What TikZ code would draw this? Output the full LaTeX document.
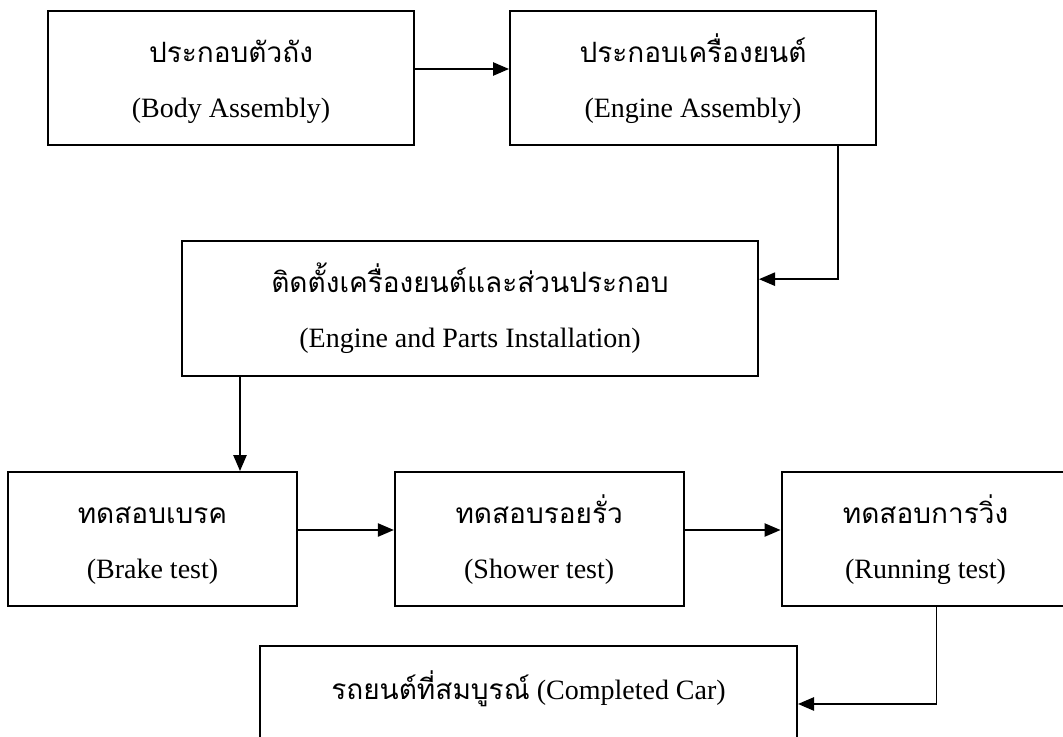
\documentclass[tikz,border=0pt]{standalone}
\usepackage{fontspec}
\setmainfont{Liberation Serif}
\newfontfamily\thaifont[Script=Thai]{Loma}
\usetikzlibrary{arrows.meta,positioning}

\begin{document}
\begin{tikzpicture}[
	x = 0.75pt, y = -0.75pt, % one unit = one pixel of the layout
	> = {Triangle[length=12pt, width=10pt]}, % arrow head style
	P/.style={rectangle, draw=black, line width=1.5pt, inner sep=0pt, align=center,
		text height=79.5pt, text depth=21pt,
		font=\fontsize{21}{41}\selectfont}, % process box
	L/.style={->, line width=1.1pt}, % connector
	]
	\useasboundingbox (0,0) rectangle (1063,736);
	\clip (0,0) rectangle (1063,736);

	% Top row
	\node[P, minimum width=274.5pt] (body) at (231,78)
		{{\thaifont ประกอบตัวถัง}\\(Body Assembly)};
	\node[P, minimum width=274.5pt] (engine) [right = 70.5pt of body]
		{{\thaifont ประกอบเครื่องยนต์}\\(Engine Assembly)};

	% Installation
	\node[P, minimum width=432pt, text depth=21.75pt] (install) at (470,308.5)
		{{\thaifont ติดตั้งเครื่องยนต์และส่วนประกอบ}\\(Engine and Parts Installation)};

	% Test row
	\node[P, minimum width=216.5pt] (brake) at (152.5,539)
		{{\thaifont ทดสอบเบรค}\\(Brake test)};
	\node[P, minimum width=216.5pt] (shower) [right = 72pt of brake]
		{{\thaifont ทดสอบรอยรั่ว}\\(Shower test)};
	\node[P, minimum width=216pt] (running) [right = 72pt of shower]
		{{\thaifont ทดสอบการวิ่ง}\\(Running test)};

	% Result, running off the bottom edge
	\node[P, anchor=north, minimum width=402.75pt, text height=39.75pt, text depth=75pt] (done) at (528.5,645)
		{{\thaifont รถยนต์ที่สมบูรณ์} (Completed Car)};

	% Paths connecting nodes
	\draw[L] ([yshift=6.75pt]body.east) -- ([yshift=6.75pt]engine.west);
	\draw[L] ([xshift=108.75pt]engine.south) |- ([yshift=22pt]install.east);
	\coordinate (drop) at ([xshift=-172.5pt]install.south);
	\draw[L] (drop) -- (drop |- brake.north);
	\draw[L] ([yshift=6.75pt]brake.east) -- ([yshift=6.75pt]shower.west);
	\draw[L] ([yshift=6.75pt]shower.east) -- ([yshift=6.75pt]running.west);
	\draw[L] ([xshift=8.25pt]running.south) |- ([yshift=13.9pt]done.east);

\end{tikzpicture}
\end{document}
